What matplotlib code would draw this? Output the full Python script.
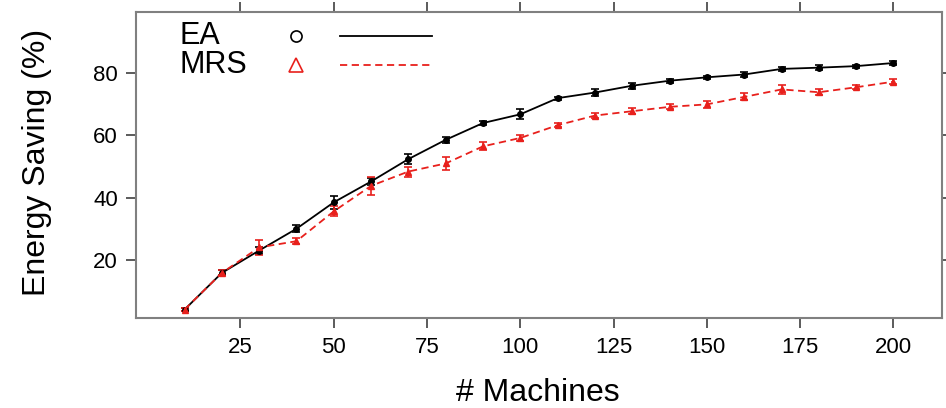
"""Energy saving vs number of machines (EA vs MRS)."""

import matplotlib
matplotlib.use("Agg")
import matplotlib.pyplot as plt
from matplotlib.lines import Line2D

plt.rcParams["font.family"] = ["Liberation Sans", "DejaVu Sans"]

machines = [10, 20, 30, 40, 50, 60, 70, 80, 90, 100,
            110, 120, 130, 140, 150, 160, 170, 180, 190, 200]

ea_mean = [4.0, 15.8, 23.0, 30.0, 38.5, 45.2, 52.4, 58.6, 64.0, 66.8,
           72.0, 73.8, 76.0, 77.6, 78.7, 79.6, 81.4, 81.8, 82.3, 83.3]
ea_err = [0.6, 0.8, 1.0, 1.2, 2.0, 1.2, 1.6, 0.9, 0.7, 1.6,
          0.5, 1.0, 1.0, 0.7, 0.5, 0.9, 0.6, 0.8, 0.5, 0.7]

mrs_mean = [4.0, 15.8, 24.0, 26.0, 35.6, 43.8, 48.4, 51.0, 56.5, 59.2,
            63.3, 66.4, 67.8, 69.2, 70.0, 72.4, 74.8, 73.9, 75.5, 77.3]
mrs_err = [0.6, 0.8, 2.4, 1.0, 1.6, 3.0, 1.6, 2.1, 1.3, 1.1,
           0.6, 0.8, 1.0, 0.8, 1.2, 1.1, 1.5, 1.0, 0.7, 0.8]

x_ticks = [25, 50, 75, 100, 125, 150, 175, 200]
y_ticks = [20, 40, 60, 80]

FRAME = "#808080"
RED = "#e8201c"
DASH = (0, (4, 2.5))

fig = plt.figure(figsize=(9.46, 4.08), dpi=100)
ax = fig.add_axes([136 / 946, 1 - 318 / 408, 806 / 946, 306 / 408])

ax.errorbar(machines, ea_mean, yerr=ea_err, color="black", lw=1.3,
            marker="o", ms=4, mfc="black", capsize=3, capthick=1.2,
            elinewidth=1.2, ls="-")
ax.errorbar(machines, mrs_mean, yerr=mrs_err, color=RED, lw=1.3,
            marker="^", ms=5, mfc=RED, capsize=3, capthick=1.2,
            elinewidth=1.2, ls=DASH)

ax.set_xlim(-3, 213)
ax.set_ylim(1.3, 99.7)
ax.set_xticks(x_ticks)
ax.set_yticks(y_ticks)

for side in ax.spines.values():
    side.set_color(FRAME)
    side.set_linewidth(1.5)
ax.tick_params(which="both", direction="out", length=7, width=1.2,
               color="#404040", labelsize=16, top=True, right=True,
               labeltop=False, labelright=False)
ax.tick_params(axis="x", pad=7)
ax.tick_params(axis="y", pad=6)

ax.set_xlabel("# Machines", fontsize=23)
ax.set_ylabel("Energy Saving (%)", fontsize=23)
ax.xaxis.label.set_va("baseline")
ax.yaxis.label.set_va("center")
ax.xaxis.set_label_coords(0.499, (318 - 401) / 306)
ax.yaxis.set_label_coords(-0.123, 0.51)

# key laid out like lattice: text, point, line
keys = [("EA", "o", 8, "black", "-", 36),
        ("MRS", "^", 10, RED, DASH, 65)]
for label, mk, size, col, style, ypix in keys:
    yfig = 1 - ypix / 408
    fig.text(180 / 946, yfig, label, fontsize=22, va="center")
    fig.lines.append(Line2D([296 / 946], [yfig], transform=fig.transFigure,
                            ls="none", marker=mk, ms=size, mfc="none",
                            mec=col, mew=1.2))
    fig.lines.append(Line2D([340 / 946, 432 / 946], [yfig, yfig],
                            transform=fig.transFigure, color=col,
                            lw=1.3, ls=style))

fig.savefig("out.png", dpi=100)
